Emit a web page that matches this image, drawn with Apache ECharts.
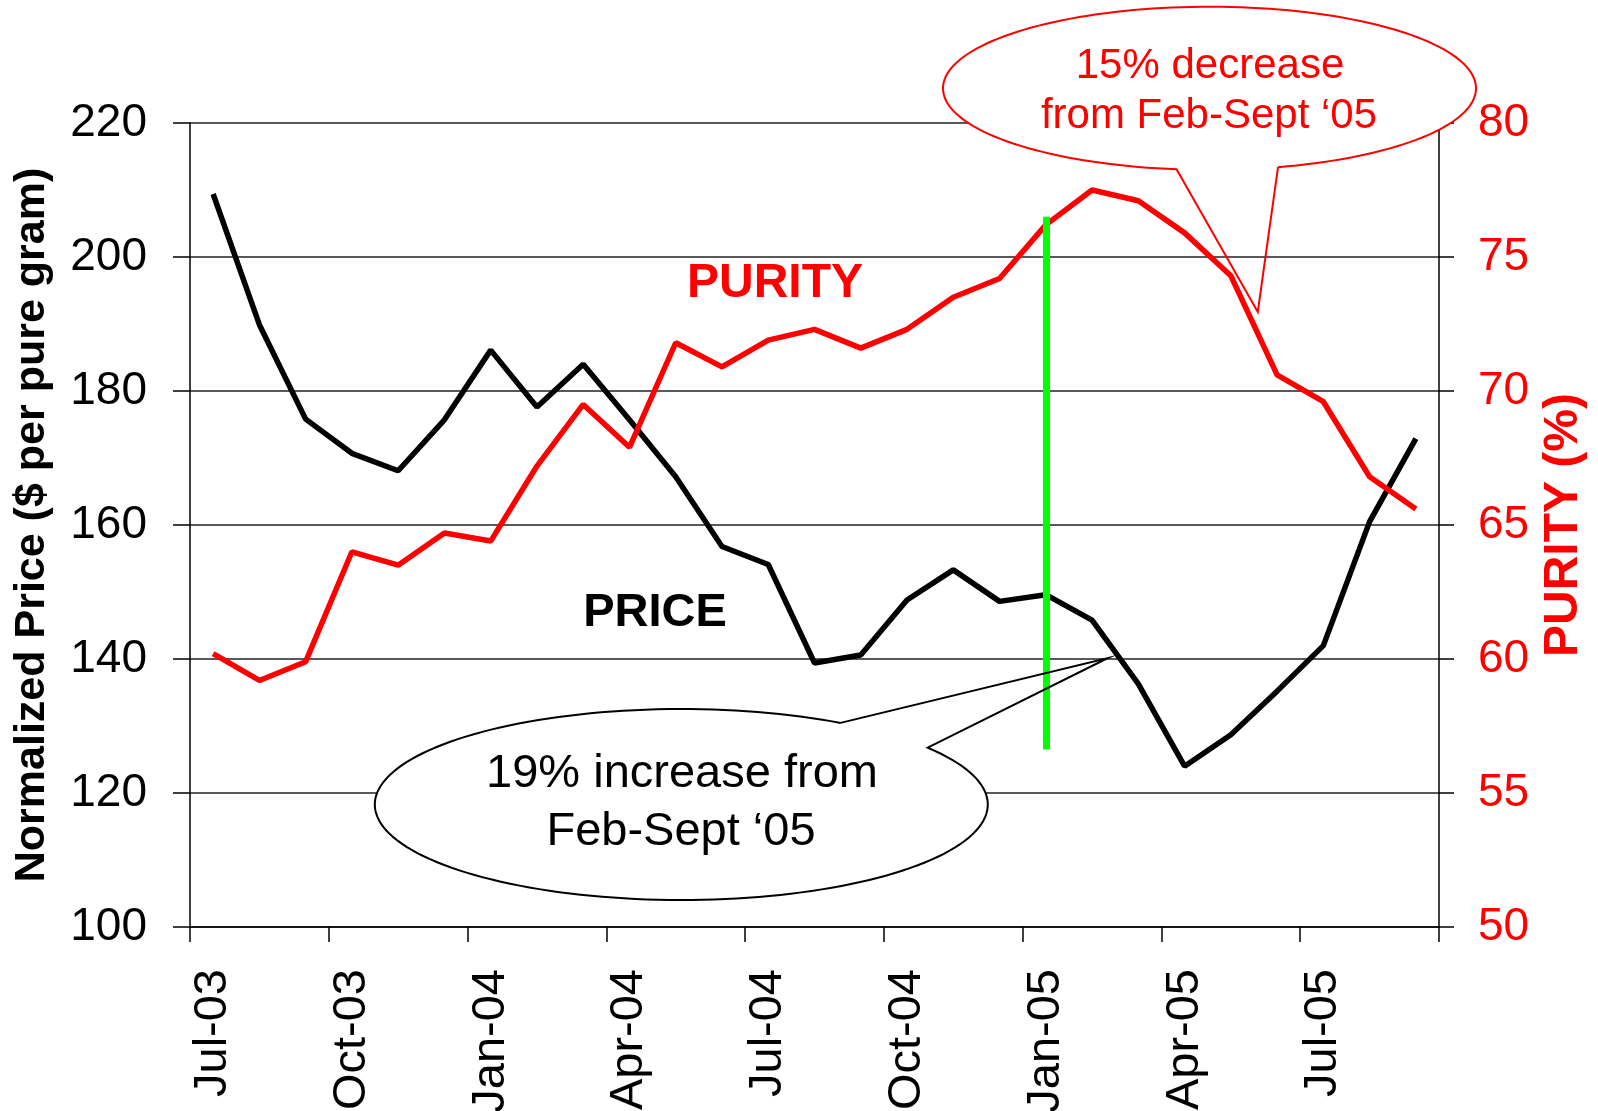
<!DOCTYPE html>
<html><head><meta charset="utf-8">
<script src="https://cdn.jsdelivr.net/npm/echarts@6/dist/echarts.min.js"></script>
<style>html,body{margin:0;padding:0;background:#fff}#c{width:1598px;height:1111px}</style>
</head><body><div id="c"></div>
<script>
// ---- data ----
const months = ['Jul-03','Aug-03','Sep-03','Oct-03','Nov-03','Dec-03',
  'Jan-04','Feb-04','Mar-04','Apr-04','May-04','Jun-04','Jul-04','Aug-04','Sep-04','Oct-04','Nov-04','Dec-04',
  'Jan-05','Feb-05','Mar-05','Apr-05','May-05','Jun-05','Jul-05','Aug-05','Sep-05'];
const price = [209.4, 189.9, 175.8, 170.7, 168.1, 175.7, 186.1, 177.6, 184.0, 175.7, 167.2, 156.8, 154.1, 139.4,
  140.6, 148.8, 153.3, 148.6, 149.6, 145.8, 136.3, 124.0, 128.7, 135.2, 142.0, 160.5, 172.9];
const purity = [60.2, 59.2, 59.9, 64.0, 63.5, 64.7, 64.4, 67.2, 69.5, 67.9, 71.8, 70.9, 71.9, 72.3,
  71.6, 72.3, 73.5, 74.2, 76.2, 77.5, 77.1, 75.9, 74.3, 70.6, 69.6, 66.8, 65.6];
const priceAxis = {min: 100, max: 220, interval: 20};
const purityAxis = {min: 50, max: 80, interval: 5};
const greenMarker = {month: 'Jan-05', from: 206, to: 126.5};
const leftAxisName = 'Normalized Price ($ per pure gram)';
const rightAxisName = 'PURITY (%)';
const seriesNames = ['PRICE', 'PURITY'];
const calloutRed = ['15% decrease', 'from Feb-Sept \u201805'];
const calloutBlack = ['19% increase from', 'Feb-Sept \u201805'];

const FONT = '"Liberation Sans", Arial, sans-serif';

function bubbleOutline(cx, cy, rx, ry, startDeg, endDeg, tip) {
  const pts = [];
  const n = 160;
  for (let k = 0; k <= n; k++) {
    const t = (startDeg + (endDeg - startDeg) * k / n) * Math.PI / 180;
    pts.push([cx + rx * Math.cos(t), cy + ry * Math.sin(t)]);
  }
  pts.push(tip);
  const t0 = startDeg * Math.PI / 180;
  pts.push([cx + rx * Math.cos(t0), cy + ry * Math.sin(t0)]);
  return pts;
}

const chart = echarts.init(document.getElementById('c'));
const axisLineStyle = {color: '#000', width: 1.5};

const option = {
  animation: false,
  backgroundColor: '#fff',
  grid: {left: 190, right: 159, top: 123, bottom: 184, containLabel: false, outerBoundsMode: 'none'},
  xAxis: {
    type: 'category',
    data: months,
    boundaryGap: true,
    axisLine: {show: true, lineStyle: axisLineStyle},
    axisTick: {show: true, interval: 2, length: 15, inside: false, lineStyle: axisLineStyle},
    axisLabel: {interval: 2, rotate: 90, margin: 42, fontSize: 47, color: '#000', fontFamily: FONT},
    splitLine: {show: false}
  },
  yAxis: [{
    type: 'value', position: 'left',
    min: priceAxis.min, max: priceAxis.max, interval: priceAxis.interval,
    name: leftAxisName, nameLocation: 'middle', nameGap: 136, nameRotate: 90,
    nameTextStyle: {fontSize: 43, fontWeight: 'bold', color: '#000', fontFamily: FONT},
    axisLine: {show: true, lineStyle: axisLineStyle},
    axisTick: {show: true, length: 17, lineStyle: axisLineStyle},
    axisLabel: {margin: 43, fontSize: 46, color: '#000', fontFamily: FONT},
    splitLine: {show: true, lineStyle: {color: '#222', width: 1.5}}
  }, {
    type: 'value', position: 'right',
    min: purityAxis.min, max: purityAxis.max, interval: purityAxis.interval,
    name: rightAxisName, nameLocation: 'middle', nameGap: 94, nameRotate: 90,
    nameTextStyle: {fontSize: 48, fontWeight: 'bold', color: '#ff0000', fontFamily: FONT},
    axisLine: {show: true, lineStyle: axisLineStyle},
    axisTick: {show: true, length: 15, lineStyle: axisLineStyle},
    axisLabel: {margin: 39, fontSize: 46, color: '#ff0000', fontFamily: FONT},
    splitLine: {show: false}
  }],
  series: [{
    name: seriesNames[0], type: 'line', yAxisIndex: 0, data: price,
    symbol: 'none', lineStyle: {color: '#000', width: 5.5}, z: 3,
    markLine: {
      silent: true, symbol: ['none', 'none'], label: {show: false},
      lineStyle: {color: '#00ff00', width: 7, type: 'solid'},
      data: [[{coord: [greenMarker.month, greenMarker.from]}, {coord: [greenMarker.month, greenMarker.to]}]]
    }
  }, {
    name: seriesNames[1], type: 'line', yAxisIndex: 1, data: purity,
    symbol: 'none', lineStyle: {color: '#ff0000', width: 5.5}, z: 4
  }],
  graphic: [
    {type: 'text', z: 20, style: {text: 'PURITY', x: 775, y: 284, align: 'center', verticalAlign: 'middle',
      font: 'bold 48px ' + FONT, fill: '#ff0000'}},
    {type: 'text', z: 20, style: {text: 'PRICE', x: 655, y: 613, align: 'center', verticalAlign: 'middle',
      font: 'bold 47px ' + FONT, fill: '#000'}},
    // red callout
    {type: 'ellipse', z: 30, shape: {cx: 1209.5, cy: 88.3, rx: 266.5, ry: 81.6}, style: {fill: '#fff', stroke: null}},
    {type: 'polyline', z: 31, shape: {points: bubbleOutline(1209.5, 88.3, 266.5, 81.6, 75.1, 97.1 - 360, [1257.8, 312])},
      style: {stroke: '#ff0000', lineWidth: 2, fill: null}},
    {type: 'text', z: 32, style: {text: calloutRed[0], x: 1210, y: 66, align: 'center', verticalAlign: 'middle',
      font: '42px ' + FONT, fill: '#ff0000'}},
    {type: 'text', z: 32, style: {text: calloutRed[1], x: 1209, y: 116, align: 'center', verticalAlign: 'middle',
      font: '42px ' + FONT, fill: '#ff0000'}},
    // black callout
    {type: 'ellipse', z: 30, shape: {cx: 681.3, cy: 804.5, rx: 306.5, ry: 95.5}, style: {fill: '#fff', stroke: null}},
    {type: 'polyline', z: 31, shape: {points: bubbleOutline(681.3, 804.5, 306.5, 95.5, -58.7, -36.5 - 360, [1108, 658])},
      style: {stroke: '#000', lineWidth: 2, fill: null}},
    {type: 'text', z: 32, style: {text: calloutBlack[0], x: 682, y: 774, align: 'center', verticalAlign: 'middle',
      font: '47px ' + FONT, fill: '#000'}},
    {type: 'text', z: 32, style: {text: calloutBlack[1], x: 681, y: 832, align: 'center', verticalAlign: 'middle',
      font: '47px ' + FONT, fill: '#000'}}
  ]
};
chart.setOption(option);
</script>
</body></html>
